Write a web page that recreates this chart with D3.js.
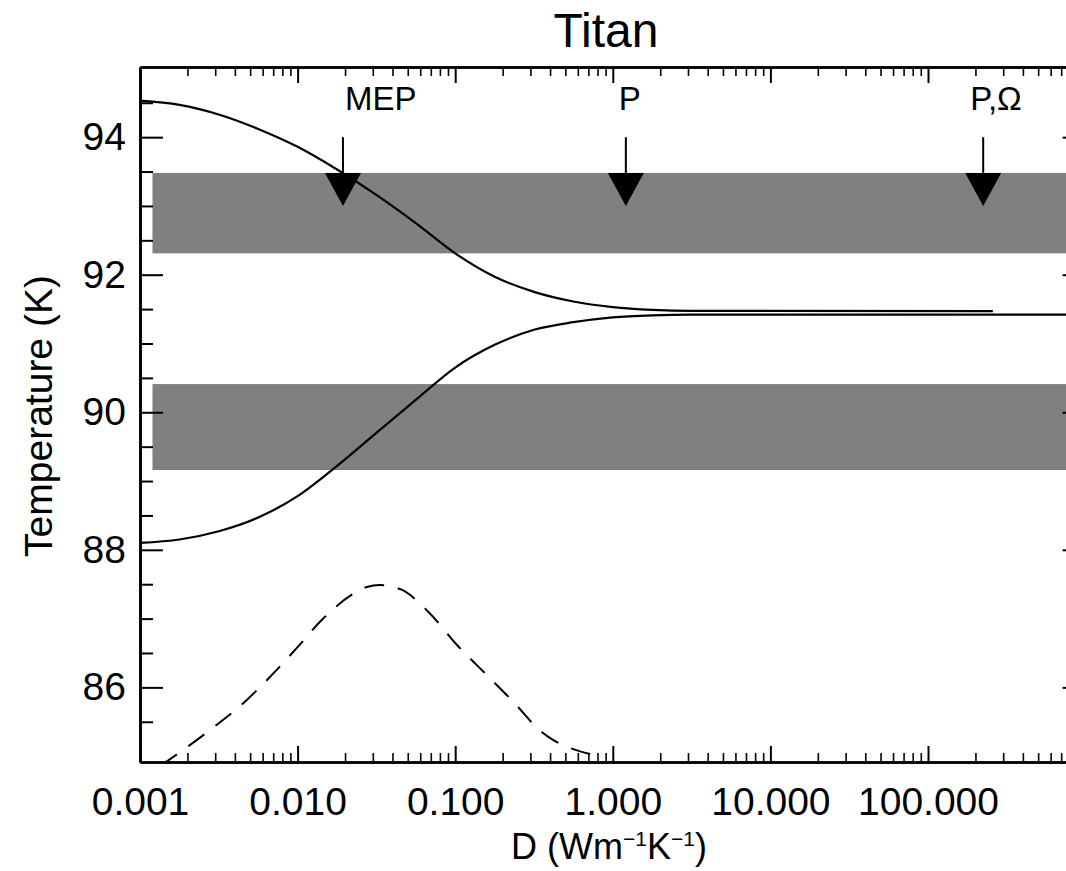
<!DOCTYPE html>
<html><head><meta charset="utf-8">
<script src="https://cdn.jsdelivr.net/npm/d3@7"></script>
<style>
body{margin:0;background:#fff;}
svg{display:block;background:#fff;}
text{font-family:"Liberation Sans",Arial,sans-serif;fill:#000;}
</style>
</head><body>
<svg id="chart" width="1066" height="871"></svg>
<script>
// ---------------- data ----------------
const chartTitle = "Titan";
const xAxisTitle = "D (Wm-1K-1)";
const yAxisTitle = "Temperature (K)";
const xDomain = [0.001, 1000];
const yDomain = [84.915, 95.02];
const xMajorTicks = [0.001, 0.01, 0.1, 1, 10, 100];
const xTickLabels = ["0.001", "0.010", "0.100", "1.000", "10.000", "100.000"];
const yMajorTicks = [86, 88, 90, 92, 94];
const yTickLabels = ["86", "88", "90", "92", "94"];
const yMinorStep = 0.5;

// upper branch (solid)
const upperD = [0.001, 0.00178, 0.00316, 0.00562, 0.01, 0.0178, 0.0316, 0.0562, 0.1, 0.178, 0.316, 0.562, 1.0, 1.78, 3.16, 258];
const upperT = [94.53, 94.47, 94.33, 94.12, 93.86, 93.53, 93.16, 92.75, 92.31, 91.97, 91.75, 91.61, 91.53, 91.49, 91.475, 91.47];
// lower branch (solid)
const lowerD = [0.001, 0.00178, 0.00316, 0.00562, 0.01, 0.0178, 0.0316, 0.0562, 0.1, 0.178, 0.316, 0.562, 1.0, 1.78, 3.16, 1000];
const lowerT = [88.10, 88.15, 88.27, 88.47, 88.78, 89.22, 89.70, 90.18, 90.65, 90.98, 91.20, 91.31, 91.38, 91.41, 91.42, 91.42];
// dashed curve
const dashD = [0.00135, 0.00278, 0.00452, 0.00686, 0.00986, 0.01422, 0.02371, 0.02748, 0.0333, 0.04046, 0.04571, 0.06745, 0.1023, 0.1507, 0.2339, 0.354, 0.39, 0.748];
const dashT = [84.86, 85.38, 85.77, 86.18, 86.57, 86.98, 87.39, 87.46, 87.49, 87.46, 87.42, 87.10, 86.62, 86.23, 85.79, 85.35, 85.28, 85.02];

// observed temperature bands [low, high] and their D extent
const bandLow = [92.31, 89.16];
const bandHigh = [93.48, 90.41];
const bandD = [0.0012, 1000];

// arrows
const arrowNames = ["MEP", "P", "P,\u03A9"];
const arrowD = [0.0194, 1.21, 224];
const arrowShaftTopT = 94.0;
const arrowHeadBaseT = 93.48;
const arrowTipT = 93.0;
const arrowLabelT = 94.40;

// ---------------- layout / style ----------------
const plotLeft = 140, plotRight = 1085.6, plotTop = 67, plotBottom = 762;
const labelDx = [2, -7, -13];

const svg = d3.select("#chart");
const x = d3.scaleLog().domain(xDomain).range([plotLeft, plotRight]);
const y = d3.scaleLinear().domain(yDomain).range([plotBottom, plotTop]);

svg.append("defs").append("clipPath").attr("id", "clip")
  .append("rect").attr("x", plotLeft).attr("y", plotTop)
  .attr("width", plotRight - plotLeft).attr("height", plotBottom - plotTop);

const plot = svg.append("g").attr("clip-path", "url(#clip)");

// bands
plot.selectAll("rect.band").data(bandLow.map((l, i) => [l, bandHigh[i]]))
  .enter().append("rect").attr("class", "band")
  .attr("x", x(bandD[0])).attr("width", x(bandD[1]) - x(bandD[0]))
  .attr("y", d => y(d[1])).attr("height", d => y(d[0]) - y(d[1]))
  .attr("fill", "#808080");

const line = d3.line().x(d => x(d[0])).y(d => y(d[1])).curve(d3.curveMonotoneX);
const zip = (a, b) => a.map((v, i) => [v, b[i]]);

plot.append("path").datum(zip(lowerD, lowerT)).attr("d", line)
  .attr("fill", "none").attr("stroke", "#000").attr("stroke-width", 2.2);
plot.append("path").datum(zip(upperD, upperT)).attr("d", line)
  .attr("fill", "none").attr("stroke", "#000").attr("stroke-width", 2.2);
plot.append("path").datum(zip(dashD, dashT)).attr("d", line)
  .attr("fill", "none").attr("stroke", "#000").attr("stroke-width", 2)
  .attr("stroke-dasharray", "20,14");

// arrows
const arrows = svg.append("g");
arrowD.forEach((d, i) => {
  const ax = x(d);
  arrows.append("line").attr("x1", ax).attr("x2", ax)
    .attr("y1", y(arrowShaftTopT)).attr("y2", y(arrowHeadBaseT))
    .attr("stroke", "#000").attr("stroke-width", 2);
  arrows.append("path")
    .attr("d", `M${ax - 18},${y(arrowHeadBaseT)}L${ax + 18},${y(arrowHeadBaseT)}L${ax},${y(arrowTipT)}Z`)
    .attr("fill", "#000");
  arrows.append("text").attr("x", ax + labelDx[i]).attr("y", y(arrowLabelT))
    .attr("font-size", 33).attr("text-anchor", "start").text(arrowNames[i]);
});

// axes
const xMinor = [];
xMajorTicks.concat([1000]).forEach(d => { for (let k = 2; k <= 9; k++) if (k * d < 1000) xMinor.push(k * d); });
const yMinor = [];
for (let v = 85 + yMinorStep; v < 95; v += yMinorStep) if (!yMajorTicks.includes(v)) yMinor.push(v);

function styleAxis(g, w) {
  g.selectAll("path.domain").attr("stroke-width", 2.6);
  g.selectAll(".tick line").attr("stroke-width", w);
}

const bottomMajor = d3.axisBottom(x).tickValues(xMajorTicks)
  .tickFormat((d, i) => xTickLabels[i]).tickSizeInner(-16).tickSizeOuter(0).tickPadding(25);
const gB = svg.append("g").attr("transform", `translate(0,${plotBottom})`).call(bottomMajor);
gB.selectAll("text").attr("font-size", 39).attr("font-family", '"Liberation Sans",Arial,sans-serif');
styleAxis(gB, 2);
const gBm = svg.append("g").attr("transform", `translate(0,${plotBottom})`)
  .call(d3.axisBottom(x).tickValues(xMinor).tickFormat("").tickSizeInner(-9).tickSizeOuter(0));
styleAxis(gBm, 1.6);

const gT = svg.append("g").attr("transform", `translate(0,${plotTop})`)
  .call(d3.axisTop(x).tickValues(xMajorTicks).tickFormat("").tickSizeInner(-16).tickSizeOuter(0));
styleAxis(gT, 2);
const gTm = svg.append("g").attr("transform", `translate(0,${plotTop})`)
  .call(d3.axisTop(x).tickValues(xMinor).tickFormat("").tickSizeInner(-9).tickSizeOuter(0));
styleAxis(gTm, 1.6);

const gL = svg.append("g").attr("transform", `translate(${plotLeft},0)`)
  .call(d3.axisLeft(y).tickValues(yMajorTicks).tickFormat((d, i) => yTickLabels[i])
    .tickSizeInner(-23).tickSizeOuter(0).tickPadding(14));
gL.selectAll("text").attr("font-size", 39).attr("font-family", '"Liberation Sans",Arial,sans-serif');
styleAxis(gL, 2);
const gLm = svg.append("g").attr("transform", `translate(${plotLeft},0)`)
  .call(d3.axisLeft(y).tickValues(yMinor).tickFormat("").tickSizeInner(-13).tickSizeOuter(0));
styleAxis(gLm, 2);

const gR = svg.append("g").attr("transform", `translate(${plotRight},0)`)
  .call(d3.axisRight(y).tickValues(yMajorTicks).tickFormat("").tickSizeInner(-23).tickSizeOuter(0));
styleAxis(gR, 2);
const gRm = svg.append("g").attr("transform", `translate(${plotRight},0)`)
  .call(d3.axisRight(y).tickValues(yMinor).tickFormat("").tickSizeInner(-13).tickSizeOuter(0));
styleAxis(gRm, 2);

svg.selectAll(".tick text").attr("fill", "#000");
svg.selectAll(".domain, .tick line").attr("stroke", "#000");

// titles
svg.append("text").attr("x", 606).attr("y", 47).attr("text-anchor", "middle")
  .attr("font-size", 48).text(chartTitle);

const xt = svg.append("text").attr("x", 609).attr("y", 859).attr("text-anchor", "middle").attr("font-size", 36);
const xParts = xAxisTitle.match(/^(D \(Wm)(-1)(K)(-1)(\))$/);
xt.append("tspan").text(xParts[1]);
xt.append("tspan").attr("dy", -13).attr("font-size", 21).text(xParts[2].replace("-", "\u2212"));
xt.append("tspan").attr("dy", 13).text(xParts[3]);
xt.append("tspan").attr("dy", -13).attr("font-size", 21).text(xParts[4].replace("-", "\u2212"));
xt.append("tspan").attr("dy", 13).text(xParts[5]);

svg.append("text").attr("transform", `translate(52,416) rotate(-90)`)
  .attr("text-anchor", "middle").attr("font-size", 39).text(yAxisTitle);
</script>
</body></html>
